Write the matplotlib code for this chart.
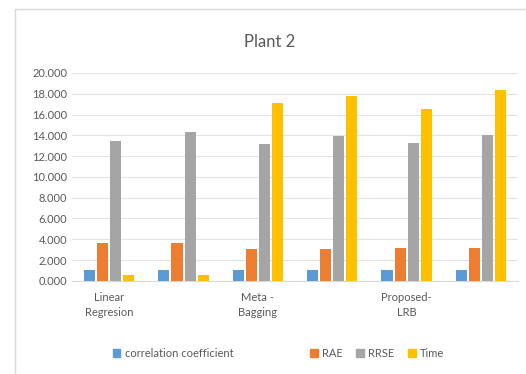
import numpy as np
import matplotlib.pyplot as plt
from matplotlib.patches import Rectangle, Patch

plt.rcParams['font.family'] = ['Lato', 'DejaVu Sans']

# data
groups = ["Linear\nRegresion", "", "Meta -\nBagging", "", "Proposed-\nLRB", ""]
series = ["correlation coefficient", "RAE", "RRSE", "Time"]
corr = [1.0, 1.0, 1.0, 1.0, 1.0, 1.0]
rae = [3.6, 3.6, 3.05, 3.05, 3.2, 3.2]
rrse = [13.5, 14.35, 13.2, 13.9, 13.3, 14.0]
time_vals = [0.6, 0.6, 17.1, 17.8, 16.5, 18.35]
colors = ["#5B9BD5", "#ED7D31", "#A5A5A5", "#FFC000"]

fig = plt.figure(figsize=(5.26, 3.74), dpi=100)
ax = fig.add_axes([0.137, 0.249, 0.848, 0.556])

# chart border (only top and left edges show in the export)
fig.patches.append(Rectangle((15 / 526, -0.05), 1.0, 1.0 - 9 / 374 + 0.05,
                             transform=fig.transFigure, fill=False,
                             edgecolor="#D9D9D9", linewidth=1.0))

x = np.arange(len(groups))
step = 0.176
width = 0.149
for i, (vals, c) in enumerate(zip([corr, rae, rrse, time_vals], colors)):
    ax.bar(x + (i - 1.5) * step, vals, width, color=c, label=series[i], zorder=3)

ax.set_xlim(-0.5, len(groups) - 0.5)
ax.set_ylim(0, 20)
ax.set_yticks(np.arange(0, 21, 2))
ax.set_yticklabels([f"{v:.3f}" for v in np.arange(0, 21, 2)])
ax.set_xticks(x)
ax.set_xticklabels(groups, linespacing=1.5)
ax.tick_params(axis='both', length=0, labelsize=8, colors="#595959")
ax.tick_params(axis='x', pad=8)
ax.grid(axis='y', color="#E3E3E3", linewidth=0.8, zorder=0)
for s in ["top", "right", "left"]:
    ax.spines[s].set_visible(False)
ax.spines["bottom"].set_color("#D9D9D9")

fig.text(0.513, 0.888, "Plant 2", ha="center", va="center", fontsize=12, color="#595959")

h = [Patch(color=c) for c in colors]
fig.legend(h[:1], series[:1], loc="center left", bbox_to_anchor=(0.195, 0.055),
           frameon=False, fontsize=8, handlelength=0.7, handleheight=0.7,
           handletextpad=0.4, labelcolor="#595959")
fig.legend(h[1:], series[1:], loc="center left", bbox_to_anchor=(0.57, 0.055), ncol=3,
           frameon=False, fontsize=8, handlelength=0.7, handleheight=0.7,
           handletextpad=0.4, columnspacing=1.2, labelcolor="#595959")

fig.savefig("out.png", dpi=100)
